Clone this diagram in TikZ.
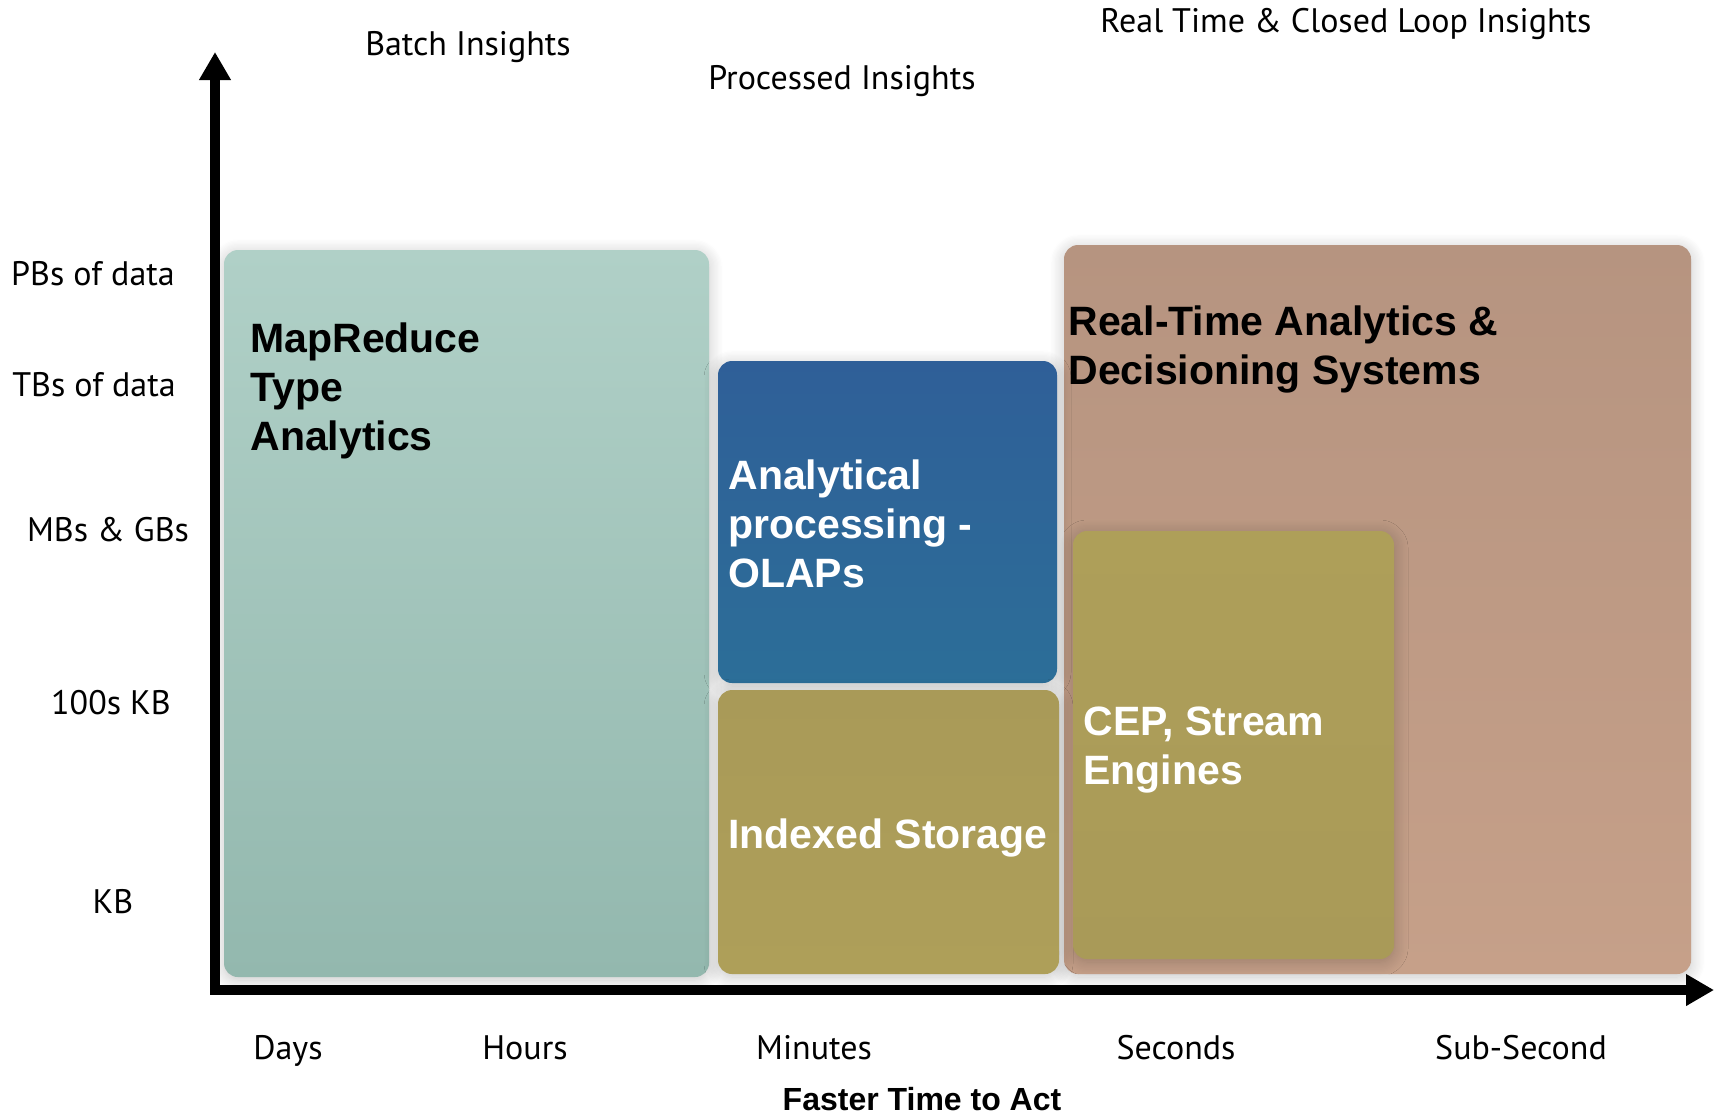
\documentclass[tikz,border=0pt]{standalone}
\usepackage{fontspec}
\setmainfont{PT Sans}
\newfontfamily\boxfont{Liberation Sans}
\usetikzlibrary{arrows.meta,fit,shadows.blur}
\definecolor{tealtop}{HTML}{B0D0C7}
\definecolor{tealbot}{HTML}{93B8AE}
\definecolor{bluetop}{HTML}{2F5F98}
\definecolor{bluebot}{HTML}{2C6E98}
\definecolor{olivetop}{HTML}{A99A58}
\definecolor{olivebot}{HTML}{AE9F59}
\definecolor{browntop}{HTML}{B69480}
\definecolor{brownbot}{HTML}{C6A089}
\begin{document}
\begin{tikzpicture}[x=0.5pt,y=-0.5pt,
  region/.style={rounded corners=7pt, inner sep=0pt,
    blur shadow={shadow xshift=0pt, shadow yshift=-1.5pt, shadow blur radius=7pt, shadow blur steps=12, shadow opacity=22}},
  lbl/.style={font=\fontsize{17}{20}\selectfont, inner sep=0pt, text height=11.9pt, text depth=0pt},
  boxtxt/.style={font=\boxfont\bfseries\fontsize{20.5}{24.5}\selectfont, align=left, anchor=west, inner sep=0pt},
  axis/.style={line width=4.6pt, -{Triangle[width=15pt,length=14pt]}}
]
\useasboundingbox (0,0) rectangle (1716,1116);

% region boxes
\coordinate (t1) at (224,250); \coordinate (t2) at (709,977);
\node[region, fit=(t1)(t2), top color=tealtop, bottom color=tealbot] (teal) {};
\coordinate (r1) at (1064,245); \coordinate (r2) at (1691,974);
\node[region, fit=(r1)(r2), top color=browntop, bottom color=brownbot] (brown) {};
\coordinate (b1) at (718,361); \coordinate (b2) at (1057,683);
\node[region, fit=(b1)(b2), top color=bluetop, bottom color=bluebot] (blue) {};
\coordinate (i1) at (718,690); \coordinate (i2) at (1059,974);
\node[region, fit=(i1)(i2), top color=olivetop, bottom color=olivebot] (idx) {};
\coordinate (c1) at (1073,531); \coordinate (c2) at (1394,959);
\node[region, fit=(c1)(c2), top color=olivebot, bottom color=olivetop] (cep) {};

% box texts
\node[boxtxt, text=black] (mr) at (250,391) {MapReduce\\Type\\Analytics};
\node[boxtxt, text=white] (olap) at (728,524) {Analytical\\processing -\\OLAPs};
\node[boxtxt, text=white] (idxt) at (728,838) {Indexed Storage};
\node[boxtxt, text=black] (rta) at (1068,349) {Real-Time Analytics \&\\Decisioning Systems};
\node[boxtxt, text=white] (cept) at (1083,750) {CEP, Stream\\Engines};

% axes
\coordinate (origin) at (215,990);
\coordinate (ytip) at (215,52);
\coordinate (xtip) at (1714,990);
\draw[axis] ([yshift=-2.3pt]origin) -- (ytip);
\draw[axis] ([xshift=-2.3pt]origin) -- (xtip);

% top labels
\node[lbl] (batch) at (468,44) {Batch Insights};
\node[lbl] (proc) at (842,78) {Processed Insights};
\node[lbl] (real) at (1346,21) {Real Time \& Closed Loop Insights};

% y labels
\node[lbl] (pb) at (93,274) {PBs of data};
\node[lbl] (tb) at (94,385) {TBs of data};
\node[lbl] (mb) at (108,530) {MBs \& GBs};
\node[lbl] (hk) at (111,703) {100s KB};
\node[lbl] (kb) at (113,902) {KB};

% x labels
\node[lbl] (days) at (288,1048) {Days};
\node[lbl] (hours) at (525,1048) {Hours};
\node[lbl] (mins) at (814,1048) {Minutes};
\node[lbl] (secs) at (1176,1048) {Seconds};
\node[lbl] (subs) at (1521,1048) {Sub-Second};
\node[font=\boxfont\bfseries\fontsize{16}{19}\selectfont, inner sep=0pt, text height=11.5pt, text depth=0pt] (faster) at (922,1099) {Faster Time to Act};
\end{tikzpicture}
\end{document}
